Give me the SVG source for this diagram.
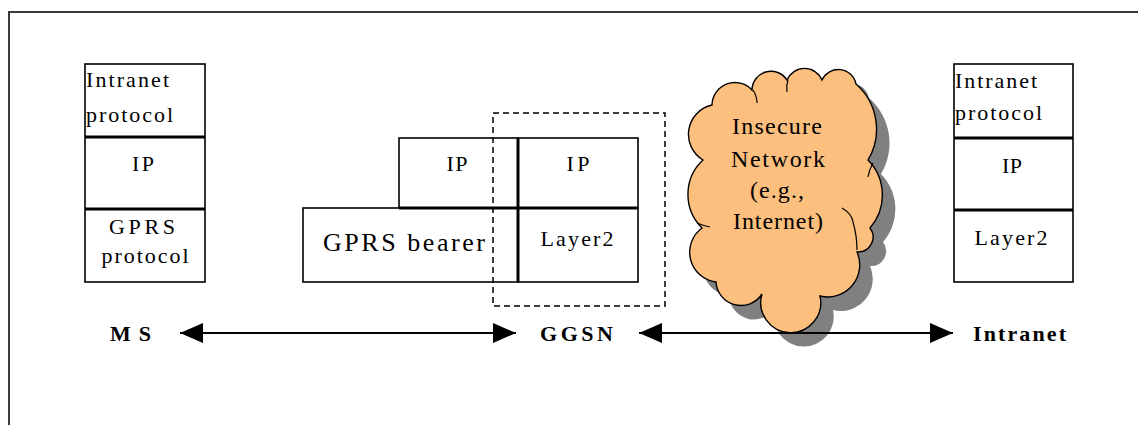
<svg xmlns="http://www.w3.org/2000/svg" width="1138" height="425" viewBox="0 0 1138 425">
<defs>
<style>
.box{fill:#fff;stroke:#000;stroke-width:1.6}
.div{stroke:#000;stroke-width:3;fill:none}
.t{font-family:"Liberation Serif","Times New Roman",serif;font-size:22px;fill:#000}
.c{text-anchor:middle}
.lbl{font-family:"Liberation Serif","Times New Roman",serif;font-size:22px;font-weight:bold;fill:#000}
.conn{stroke:#000;stroke-width:2;fill:none}
.cl{fill:none;stroke:#000;stroke-width:1.2}
</style>
<marker id="ah" viewBox="0 0 23 20" markerWidth="23" markerHeight="20" refX="23" refY="10" markerUnits="userSpaceOnUse" orient="auto-start-reverse">
<path d="M0,0 L23,10 L0,20 z" fill="#000"/>
</marker>
<path id="cloudShape" d="M703,160 A30,30 0 0 1 712,105 A23,23 0 0 1 752,90 A19,19 0 0 1 787,80 A19,19 0 0 1 822,80 A18,18 0 0 1 856,84 A60,60 0 0 1 868,160 A50,50 0 0 1 870,228 A15,15 0 0 1 857,252 A32,32 0 0 1 820,296 A30,30 0 1 1 762,294 A25,25 0 0 1 716,282 A30,30 0 0 1 702,228 A47,47 0 0 1 703,160 Z"/>
</defs>
<rect x="0" y="0" width="1138" height="425" fill="#fff"/>
<rect x="9" y="12" width="1140" height="430" fill="none" stroke="#3a3a3a" stroke-width="2"/>

<g id="ms-stack">
<rect class="box" x="85" y="64" width="120" height="218"/>
<line class="div" x1="85" y1="137" x2="205" y2="137"/>
<line class="div" x1="85" y1="209" x2="205" y2="209"/>
<text class="t" x="86" y="87" textLength="83" lengthAdjust="spacing">Intranet</text>
<text class="t" x="86" y="122" textLength="87" lengthAdjust="spacing">protocol</text>
<text class="t c" x="143" y="171" textLength="22" lengthAdjust="spacing">IP</text>
<text class="t c" x="142" y="234" textLength="66" lengthAdjust="spacing">GPRS</text>
<text class="t c" x="145" y="263" textLength="87" lengthAdjust="spacing">protocol</text>
</g>

<g id="gprs-stack">
<rect class="box" x="399" y="138" width="119" height="70"/>
<rect class="box" x="303" y="208" width="215" height="74"/>
<text class="t c" x="457" y="171" textLength="21" lengthAdjust="spacing">IP</text>
<text class="t" x="323" y="251" style="font-size:26px" textLength="162" lengthAdjust="spacing">GPRS bearer</text>
</g>

<g id="ggsn-stack">
<rect class="box" x="518" y="138" width="120" height="70"/>
<rect class="box" x="518" y="208" width="120" height="74"/>
<line class="div" x1="399" y1="208" x2="638" y2="208"/>
<line class="div" x1="518" y1="138" x2="518" y2="282"/>
<text class="t c" x="578" y="171" textLength="23" lengthAdjust="spacing">IP</text>
<text class="t c" x="577" y="246" textLength="73" lengthAdjust="spacing">Layer2</text>
</g>

<g id="ggsn-boundary">
<rect x="493" y="113" width="172" height="193" fill="none" stroke="#000" stroke-width="1.5" stroke-dasharray="6,4"/>
</g>

<g id="insecure-network">
<use href="#cloudShape" transform="translate(13,14)" fill="#808080"/>
<use href="#cloudShape" fill="#FDBF7E" stroke="#000" stroke-width="1.4"/>
<path class="cl" d="M753,90 Q757,96 757,103"/>
<path class="cl" d="M788,80 Q786,86 787,92"/>
<path class="cl" d="M873,163 Q869,170 868,177"/>
<path class="cl" d="M842,208 Q852,214 853,222 Q857,236 857,250"/>
<path class="cl" d="M697,223 Q704,226 710,227"/>
<text class="t c" x="777" y="134" style="font-size:24px" textLength="90" lengthAdjust="spacing">Insecure</text>
<text class="t c" x="778" y="167" style="font-size:24px" textLength="94" lengthAdjust="spacing">Network</text>
<text class="t c" x="777" y="198" style="font-size:24px" textLength="54" lengthAdjust="spacing">(e.g.,</text>
<text class="t c" x="778" y="229" style="font-size:24px" textLength="90" lengthAdjust="spacing">Internet)</text>
</g>

<g id="intranet-stack">
<rect class="box" x="954" y="64" width="119" height="218"/>
<line class="div" x1="954" y1="138" x2="1073" y2="138"/>
<line class="div" x1="954" y1="210" x2="1073" y2="210"/>
<text class="t" x="955" y="88" textLength="82" lengthAdjust="spacing">Intranet</text>
<text class="t" x="955" y="120" textLength="87" lengthAdjust="spacing">protocol</text>
<text class="t c" x="1012" y="173" textLength="20" lengthAdjust="spacing">IP</text>
<text class="t c" x="1011" y="245" textLength="73" lengthAdjust="spacing">Layer2</text>
</g>

<g id="label-ms"><text class="lbl" x="110" y="341" textLength="41" lengthAdjust="spacing">MS</text></g>
<g id="label-ggsn"><text class="lbl" x="540" y="341" textLength="73" lengthAdjust="spacing">GGSN</text></g>
<g id="label-intranet"><text class="lbl" x="973" y="341" textLength="93" lengthAdjust="spacing">Intranet</text></g>

<g id="connectors">
<line class="conn" x1="180" y1="333" x2="516" y2="333" marker-start="url(#ah)" marker-end="url(#ah)"/>
<line class="conn" x1="639" y1="333" x2="953" y2="333" marker-start="url(#ah)" marker-end="url(#ah)"/>
</g>
</svg>
